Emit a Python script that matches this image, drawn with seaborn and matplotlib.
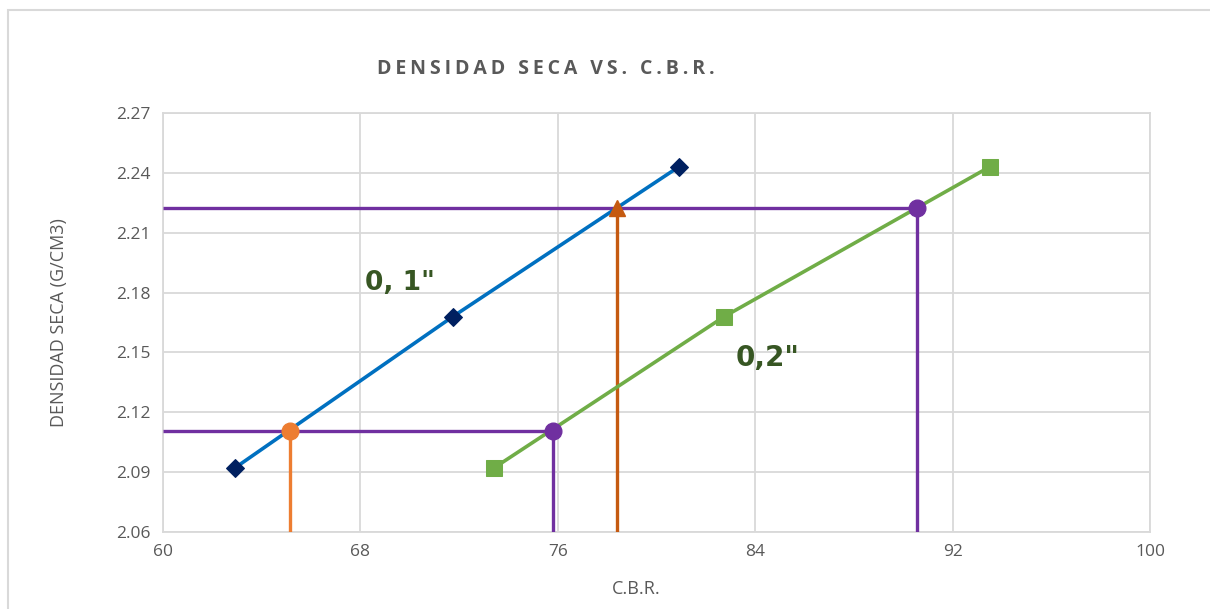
import matplotlib
matplotlib.use("Agg")
import matplotlib.pyplot as plt
import seaborn as sns
import pandas as pd
from matplotlib.patches import Rectangle

# datos
densidad = [2.092, 2.168, 2.243]
cbr_01 = [62.9, 71.75, 80.9]
cbr_02 = [73.4, 82.75, 93.5]

dens_max = 2.2222   # 95% / 100% densidad
dens_min = 2.1108
cbr_01_max = 78.4
cbr_02_max = 90.55
cbr_01_min = 65.15
cbr_02_min = 75.8

x_ticks = [60, 68, 76, 84, 92, 100]
y_ticks = [2.06, 2.09, 2.12, 2.15, 2.18, 2.21, 2.24, 2.27]

titulo = "DENSIDAD SECA VS. C.B.R."

sns.set_style("white")
plt.rcParams["font.family"] = ["Open Sans", "DejaVu Sans"]

fig = plt.figure(figsize=(12.1, 6.09), dpi=100)
ax = fig.add_axes([163 / 1210, 1 - 532 / 609, (1150 - 163) / 1210, (532 - 113) / 609])

df1 = pd.DataFrame({"cbr": cbr_01, "dens": densidad})
df2 = pd.DataFrame({"cbr": cbr_02, "dens": densidad})

purple = "#7030A0"
lw_ref = 2.4
# lineas de referencia horizontales
ax.plot([x_ticks[0], cbr_02_max], [dens_max, dens_max], color=purple, lw=lw_ref, zorder=3, solid_capstyle="butt")
ax.plot([x_ticks[0], cbr_02_min], [dens_min, dens_min], color=purple, lw=lw_ref, zorder=3, solid_capstyle="butt")
# verticales
ax.plot([cbr_01_min, cbr_01_min], [y_ticks[0], dens_min], color="#ED7D31", lw=lw_ref, zorder=3, solid_capstyle="butt")
ax.plot([cbr_02_min, cbr_02_min], [y_ticks[0], dens_min], color=purple, lw=lw_ref, zorder=3, solid_capstyle="butt")
ax.plot([cbr_01_max, cbr_01_max], [y_ticks[0], dens_max], color="#C55A11", lw=lw_ref, zorder=3, solid_capstyle="butt")
ax.plot([cbr_02_max, cbr_02_max], [y_ticks[0], dens_max], color=purple, lw=lw_ref, zorder=3, solid_capstyle="butt")

# curvas
sns.lineplot(data=df1, x="cbr", y="dens", ax=ax, color="#0070C0", lw=2.6, marker="D",
             markersize=9, markerfacecolor="#002060", markeredgecolor="#002060", zorder=4)
sns.lineplot(data=df2, x="cbr", y="dens", ax=ax, color="#70AD47", lw=2.6, marker="s",
             markersize=11, markerfacecolor="#70AD47", markeredgecolor="#70AD47", zorder=4)

# puntos de interseccion
ax.plot(cbr_01_min, dens_min, "o", color="#ED7D31", ms=12, zorder=5)
ax.plot(cbr_02_min, dens_min, "o", color=purple, ms=12, zorder=5)
ax.plot(cbr_01_max, dens_max, "^", color="#C55A11", ms=11, zorder=5)
ax.plot(cbr_02_max, dens_max, "o", color=purple, ms=12, zorder=5)

ax.text(68.2, 2.1848, '0, 1"', fontsize=19, fontweight="bold", color="#375623",
        family=["DejaVu Sans"], va="center")
ax.text(83.2, 2.1472, '0,2"', fontsize=20, fontweight="bold", color="#375623",
        family=["DejaVu Sans"], va="center")

ax.set_xlim(60, 100)
ax.set_ylim(2.06, 2.27)
ax.set_xticks(x_ticks)
ax.set_yticks(y_ticks)
ax.set_yticklabels([f"{v:.2f}" for v in y_ticks])
ax.grid(True, color="#D9D9D9", lw=1.3)
for s in ax.spines.values():
    s.set_color("#D9D9D9")
    s.set_linewidth(1.3)
ax.tick_params(axis="both", length=0, labelsize=12.5, colors="#595959", pad=9)
ax.set_xlabel("C.B.R.", fontsize=13, color="#595959")
ax.xaxis.set_label_coords((636 - 163) / 987, (532 - 580) / 419)
ax.set_ylabel("DENSIDAD SECA (G/CM3)", fontsize=13, color="#595959")
ax.yaxis.set_label_coords((68 - 163) / 987, 0.5)

# titulo con espaciado entre letras
fig.text(546 / 1210, 1 - 69 / 609, "\u2009".join(titulo),
         ha="center", va="center", fontsize=14, fontweight="bold", color="#595959")

fig.add_artist(Rectangle((8 / 1210, -0.05), 1.2, 1.05 - 10 / 609, transform=fig.transFigure,
                         fill=False, edgecolor="#D9D9D9", lw=1.5))

fig.savefig("out.png", dpi=100, facecolor="white")
